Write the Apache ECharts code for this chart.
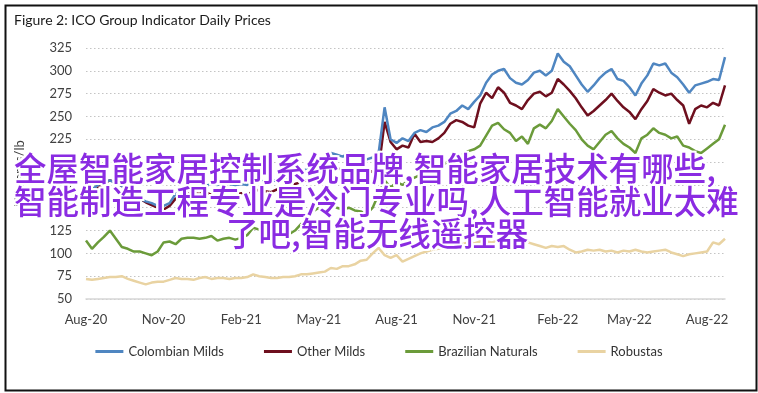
<!DOCTYPE html>
<html>
<head>
<meta charset="utf-8">
<script src="https://cdn.jsdelivr.net/npm/echarts@6/dist/echarts.min.js"></script>
<style>
  html, body { margin: 0; padding: 0; background: #fff; }
  #wrap { position: relative; width: 758px; height: 393px; }
  #chart { position: absolute; left: 0; top: 0; width: 758px; height: 393px; }
  .ov {
    position: absolute; font-family: "Noto Sans CJK SC", sans-serif;
    font-size: 32.5px; line-height: 32.5px; color: #8a2be2; font-weight: 500;
    text-shadow: -2px -2px 0 #fff, 2px -2px 0 #fff, -2px 2px 0 #fff, 2px 2px 0 #fff,
                 0 -2px 0 #fff, 0 2px 0 #fff, -2px 0 0 #fff, 2px 0 0 #fff;
    pointer-events: none; white-space: nowrap;
  }
</style>
</head>
<body>
<div id="wrap">
  <div id="chart"></div>
  <div class="ov" style="left:14px; top:151px;">全屋智能家居控制系统品牌,智能家居技术有哪些,</div>
  <div class="ov" style="left:14px; top:184px;">智能制造工程专业是冷门专业吗,人工智能就业太难</div>
  <div class="ov" style="left:226px; top:216px;">了吧,智能无线遥控器</div>
</div>
<script>
// ---- data (weekly samples starting 2020-08-03) ----
const startDate = '2020-08-03';
const tickLabels = ['Aug-20','Nov-20','Feb-21','May-21','Aug-21','Nov-21','Feb-22','May-22','Aug-22'];
const seriesNames = ['Colombian Milds','Other Milds','Brazilian Naturals','Robustas'];

const colombianMilds = [
166,170,175,178,180,177,174,168,165,160,157,155,152,152,155,165,170,172,173,175,
174,176,175,178,176,175,176,175,178,180,179,181,178,180,183,185,190,192,196,200,
205,210,208,206,210,207,205,203,205,210,260,225,221,226,223,232,235,233,238,240,
244,253,256,262,258,266,273,287,296,300,302,292,287,285,290,298,300,295,300,319,
310,305,295,285,277,284,292,298,302,291,289,282,273,286,295,308,306,308,298,293,
285,276,284,286,288,291,290,315];

const otherMilds = [
160,165,172,177,180,178,174,168,165,160,156,153,150,148,152,160,163,165,166,165,
167,164,166,165,167,164,166,165,167,170,168,167,170,172,175,176,178,180,184,188,
192,195,193,192,195,192,190,192,189,192,244,222,214,218,216,231,222,223,222,226,
232,242,246,244,240,238,264,276,270,282,276,265,262,258,268,275,277,272,276,291,
285,278,270,260,251,256,262,268,275,267,260,255,247,258,267,280,276,273,275,268,
262,242,258,262,260,265,262,284];

const brazilianNaturals = [
114,105,112,118,125,116,107,105,102,102,100,98,102,112,113,110,116,117,117,116,
117,119,114,116,117,115,117,120,128,126,125,123,122,121,121,125,132,140,146,150,
148,153,150,148,150,147,146,143,150,165,180,172,178,175,180,183,186,190,188,195,
198,202,205,208,212,214,218,229,240,243,236,232,223,228,220,237,241,237,245,258,
250,242,235,225,218,214,222,230,234,226,220,216,210,226,230,237,232,230,226,228,
218,216,212,210,215,220,225,241];

const robustas = [
72,71,72,73,74,74,75,72,70,68,66,68,69,69,71,73,72,72,71,73,
74,72,73,73,72,73,73,74,77,75,74,73,73,74,74,75,77,77,78,79,
80,84,83,86,86,88,92,93,100,106,98,95,98,91,94,97,100,102,104,105,
106,108,108,110,112,111,113,113,112,114,113,112,113,114,112,110,108,106,108,107,
108,104,101,102,104,103,104,102,103,101,103,102,104,102,101,102,103,104,101,99,
97,99,100,101,102,112,110,116];

const seriesColors = ['#4f86c1', '#6e0f1e', '#6b9b3a', '#e9d3a2'];

// ---- build categories ----
const MON = ['Jan','Feb','Mar','Apr','May','Jun','Jul','Aug','Sep','Oct','Nov','Dec'];
const categories = [];
(function(){
  const d0 = new Date(startDate + 'T00:00:00Z');
  for (let i = 0; i < colombianMilds.length; i++) {
    const d = new Date(d0.getTime() + i * 7 * 86400000);
    categories.push(d.toISOString().slice(0,10));
  }
})();
function fmt(s) {
  const d = new Date(s + 'T00:00:00Z');
  return MON[d.getUTCMonth()] + '-' + String(d.getUTCFullYear()).slice(2);
}
const labelIdx = new Set();
tickLabels.forEach(t => {
  const i = categories.findIndex(c => fmt(c) === t);
  if (i >= 0) labelIdx.add(i);
});

const FONT = 'Lato, "DejaVu Sans Condensed", sans-serif';
const chart = echarts.init(document.getElementById('chart'), null, {renderer: 'canvas'});
const allData = [colombianMilds, otherMilds, brazilianNaturals, robustas];
chart.setOption({
  animation: false,
  backgroundColor: '#fff',
  textStyle: { fontFamily: FONT },
  title: {
    text: 'Figure 2: ICO Group Indicator Daily Prices',
    left: 9, top: 8,
    textStyle: { fontFamily: FONT, fontSize: 14, fontWeight: 'normal', color: '#1a1a1a' }
  },
  graphic: [{
    type: 'rect', left: 3, top: 3, silent: true,
    shape: { width: 751, height: 385 },
    style: { fill: 'none', stroke: '#111', lineWidth: 2 }
  }],
  grid: { left: 86, right: 33, top: 48, bottom: 94 },
  legend: {
    data: seriesNames, bottom: 30, left: 'center', itemGap: 40,
    icon: 'rect', itemWidth: 28, itemHeight: 3,
    textStyle: { fontFamily: FONT, fontSize: 13, color: '#333' }
  },
  xAxis: {
    type: 'category', data: categories, boundaryGap: false,
    axisTick: { show: false },
    axisLine: { lineStyle: { color: '#d6d6d6', width: 1.5 } },
    axisLabel: {
      interval: (i) => labelIdx.has(i),
      formatter: (v) => fmt(v),
      margin: 14, fontFamily: FONT, fontSize: 13, color: '#404040'
    },
    splitLine: { show: false }
  },
  yAxis: {
    type: 'value', min: 50, max: 325, interval: 25,
    name: 'US cents/lb', nameLocation: 'middle', nameGap: 60, nameRotate: 90,
    nameTextStyle: { fontFamily: FONT, fontSize: 13, color: '#404040' },
    axisLine: { show: false }, axisTick: { show: false },
    axisLabel: { margin: 14, fontFamily: FONT, fontSize: 13, color: '#404040' },
    splitLine: { lineStyle: { color: '#c4c4c4', type: [1.5, 2.5], width: 1.2 } }
  },
  series: seriesNames.map((n, k) => ({
    name: n, type: 'line', data: allData[k], showSymbol: false,
    lineStyle: { width: 2.5, color: seriesColors[k] },
    itemStyle: { color: seriesColors[k] },
    z: 10 - k
  }))
});
</script>
</body>
</html>
